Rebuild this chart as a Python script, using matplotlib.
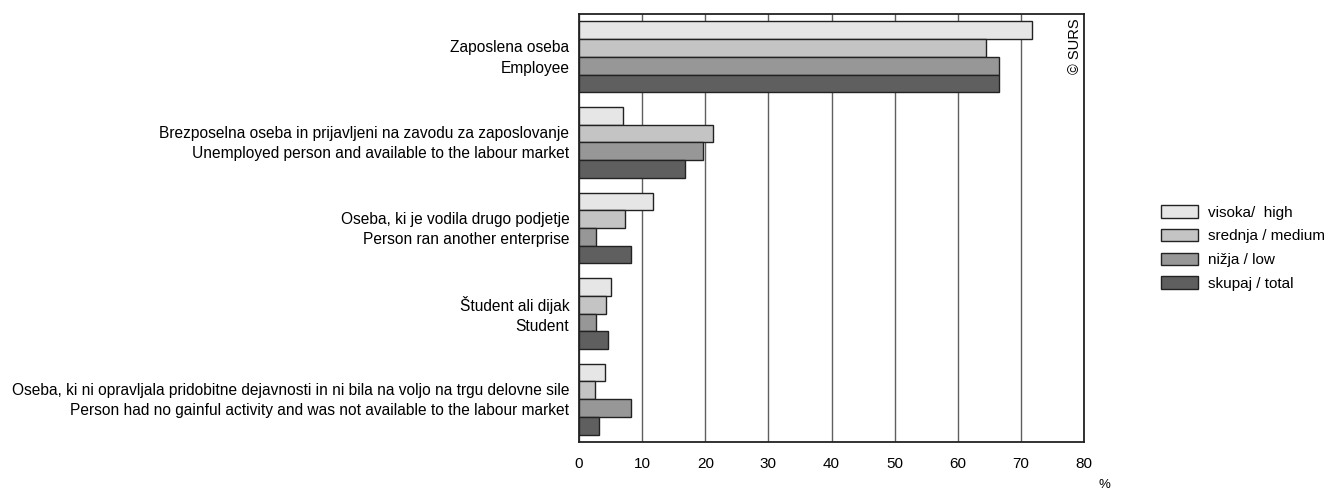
import matplotlib.pyplot as plt
from matplotlib.patches import Patch
import numpy as np

plt.rcParams['font.family'] = ['Liberation Sans', 'DejaVu Sans']

categories = [
    'Zaposlena oseba\nEmployee',
    'Brezposelna oseba in prijavljeni na zavodu za zaposlovanje\nUnemployed person and available to the labour market',
    'Oseba, ki je vodila drugo podjetje\nPerson ran another enterprise',
    'Študent ali dijak\nStudent',
    'Oseba, ki ni opravljala pridobitne dejavnosti in ni bila na voljo na trgu delovne sile\n'
    'Person had no gainful activity and was not available to the labour market',
]
series = ['visoka/  high', 'srednja / medium', 'nižja / low', 'skupaj / total']
high = [71.7, 7.0, 11.8, 5.1, 4.1]
medium = [64.5, 21.2, 7.3, 4.3, 2.5]
low = [66.6, 19.7, 2.7, 2.7, 8.2]
total = [66.6, 16.8, 8.3, 4.6, 3.2]

colors = ['#e6e6e6', '#c4c4c4', '#979797', '#5f5f5f']
values = [high, medium, low, total]

fig = plt.figure(figsize=(13.27, 4.9), dpi=100)
ax = fig.add_axes([579 / 1327, 1 - 442 / 490, (1084 - 579) / 1327, (442 - 14) / 490])

y = np.arange(len(categories))
h = 0.207
for j, (vals, col) in enumerate(zip(values, colors)):
    ax.barh(y + (j - 1.5) * h, vals, height=h, color=col, edgecolor='#222222',
            linewidth=1.0, zorder=3)

ax.set_xlim(0, 80)
ax.set_ylim(len(categories) - 0.5, -0.5)
ax.set_xticks(np.arange(0, 81, 10))
# labels sit a touch above the group centre in the original
ax.set_yticks(y - 0.035)
ax.set_yticklabels(categories, fontsize=11.2, linespacing=1.45)
ax.tick_params(axis='both', length=0)
ax.tick_params(axis='x', pad=11, labelsize=11)
ax.tick_params(axis='y', pad=7)
ax.grid(axis='x', color='#606060', linewidth=1.0, zorder=0)
ax.grid(axis='y', visible=False)
for s in ax.spines.values():
    s.set_color('#222222')
    s.set_linewidth(1.3)

fig.text(1104 / 1327, 1 - 485 / 490, '%', fontsize=9.5, ha='center', va='center')
ax.text(78.5, -0.45, '© SURS', rotation=90, fontsize=10.5, ha='center', va='top')

handles = [Patch(facecolor=c, edgecolor='#222222', linewidth=1.0) for c in colors]
fig.legend(handles, series, loc='upper left', bbox_to_anchor=(1161 / 1327, 1 - 205 / 490),
           frameon=False, fontsize=11, handlelength=2.4, handleheight=0.9,
           labelspacing=0.6, handletextpad=0.7, borderpad=0, borderaxespad=0)

fig.savefig('out.png', dpi=100)
